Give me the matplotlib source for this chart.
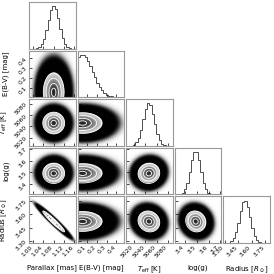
import math
import numpy as np
import matplotlib
matplotlib.use("Agg")
import matplotlib.pyplot as plt

# posterior summary
labels = ["Parallax [mas]", "E(B-V) [mag]", r"$T_{\rm eff}$ [K]", "log(g)", r"Radius [$R_\odot$]"]
means = [1.080, 0.050, 5046.0, 3.490, 3.520]
sigmas = [0.021, 0.105, 9.5, 0.043, 0.058]
lower_cut = [None, 0.0, None, None, None]
ranges = [(0.985, 1.165), (0.0, 0.48), (5006.0, 5088.0), (3.31, 3.71), (3.28, 3.80)]
corr = [[1.0, 0.0, 0.0, 0.0, -0.96],
        [0.0, 1.0, 0.0, 0.0, 0.0],
        [0.0, 0.0, 1.0, 0.05, -0.10],
        [0.0, 0.0, 0.05, 1.0, -0.10],
        [-0.96, 0.0, -0.10, -0.10, 1.0]]
ticks = [[1.00, 1.04, 1.08, 1.12, 1.16],
         [0.1, 0.2, 0.3, 0.4],
         [5020, 5040, 5060, 5080],
         [3.4, 3.5, 3.6, 3.7],
         [3.30, 3.45, 3.60, 3.75]]
tick_fmt = ["{:.2f}", "{:.1f}", "{:.0f}", "{:.1f}", "{:.2f}"]
sigma_levels = [0.5, 1.0, 1.5, 2.0]
n_bins = 20

erf = np.vectorize(math.erf)


def norm_cdf(x, mu, s):
    return 0.5 * (1 + erf((x - mu) / (s * np.sqrt(2))))


def density2d(i, j, n=300):
    xs = np.linspace(*ranges[j], n)
    ys = np.linspace(*ranges[i], n)
    X, Y = np.meshgrid(xs, ys)
    u = (X - means[j]) / sigmas[j]
    v = (Y - means[i]) / sigmas[i]
    r = corr[i][j]
    q = (u * u - 2 * r * u * v + v * v) / (1 - r * r)
    p = np.exp(-0.5 * q)
    if lower_cut[j] is not None:
        p[X < lower_cut[j]] = 0
    if lower_cut[i] is not None:
        p[Y < lower_cut[i]] = 0
    return xs, ys, p / p.max()


def mass_levels(p):
    flat = np.sort(p.ravel())[::-1]
    cum = np.cumsum(flat)
    cum /= cum[-1]
    V = []
    for s in sigma_levels:
        m = 1 - np.exp(-0.5 * s ** 2)
        V.append(flat[np.argmin(np.abs(cum - m))])
    return np.sort(V)


K = len(labels)
fig, axes = plt.subplots(K, K, figsize=(2.74, 2.74), dpi=100)
fig.subplots_adjust(left=0.106, right=0.985, bottom=0.113, top=0.993,
                    wspace=0.04, hspace=0.04)

for i in range(K):
    for j in range(K):
        ax = axes[i, j]
        if j > i:
            ax.set_axis_off()
            continue
        if i == j:
            edges = np.linspace(*ranges[i], n_bins + 1)
            h = np.diff(norm_cdf(edges, means[i], sigmas[i]))
            ax.stairs(h, edges, color="0.3", lw=0.7)
            ax.set_ylim(0, 1.1 * h.max())
            ax.set_yticks([])
        else:
            xs, ys, p = density2d(i, j)
            V = mass_levels(p)
            img = np.zeros(p.shape + (4,))
            outer = 1 - np.exp(-700 * p)
            inside = p >= V[0]
            gray = 0.15 + 0.85 * (1 - p)
            img[..., 0] = np.where(inside, gray, 0)
            img[..., 1] = np.where(inside, gray, 0)
            img[..., 2] = np.where(inside, gray, 0)
            img[..., 3] = np.where(inside, 1, outer)
            ax.imshow(img, extent=(*ranges[j], *ranges[i]), origin="lower",
                      aspect="auto", interpolation="bilinear")
            ax.contour(xs, ys, p, V, colors="white", linewidths=0.6)
            ax.set_ylim(*ranges[i])
            ax.set_yticks(ticks[i])
            if j == 0:
                ax.set_yticklabels([tick_fmt[i].format(t) for t in ticks[i]],
                                   rotation=45)
                ax.set_ylabel(labels[i], fontsize=5)
                ax.yaxis.set_label_coords(-0.42, 0.5)
            else:
                ax.set_yticklabels([])
        ax.set_xlim(*ranges[j])
        ax.set_xticks(ticks[j])
        if i == K - 1:
            ax.set_xticklabels([tick_fmt[j].format(t) for t in ticks[j]],
                               rotation=45, ha="right")
            ax.set_xlabel(labels[j], fontsize=5)
            ax.xaxis.set_label_coords(0.5, -0.46)
        else:
            ax.set_xticklabels([])
        ax.tick_params(direction="in", length=2, width=0.5, labelsize=4.3, pad=1)
        for s in ax.spines.values():
            s.set_color("0.6")
            s.set_linewidth(0.8)

fig.savefig("out.png", dpi=100)
